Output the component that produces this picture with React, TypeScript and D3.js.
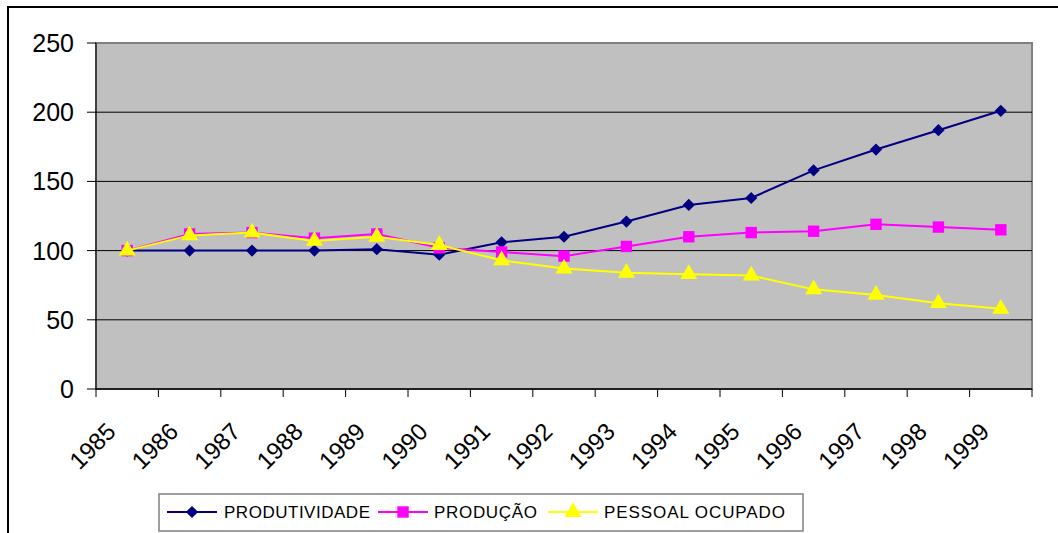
import * as d3 from 'd3'
import React from 'react'

// valores (índice, 1985 = 100)
const anos = ['1985', '1986', '1987', '1988', '1989', '1990', '1991', '1992', '1993', '1994', '1995', '1996', '1997', '1998', '1999']
const produtividade = [100, 100, 100, 100, 101, 97, 106, 110, 121, 133, 138, 158, 173, 187, 201]
const producao = [100, 112, 113, 109, 112, 102, 99, 96, 103, 110, 113, 114, 119, 117, 115]
const pessoalOcupado = [100, 111, 113, 107, 110, 104, 93, 87, 84, 83, 82, 72, 68, 62, 58]
const yTicks = [0, 50, 100, 150, 200, 250]

const W = 1058
const H = 533
const left = 96
const right = 1032
const top = 43
const bottom = 389
const font = 'Arial, "Liberation Sans", sans-serif'

const series = [
  { name: 'PRODUTIVIDADE', values: produtividade, color: '#000080', marker: 'diamond' },
  { name: 'PRODUÇÃO', values: producao, color: '#FF00FF', marker: 'square' },
  { name: 'PESSOAL OCUPADO', values: pessoalOcupado, color: '#FFFF00', marker: 'triangle' },
]

const symbolFor = (m: string) => {
  if (m === 'diamond') return d3.symbol().type(d3.symbolDiamond2).size(95)()
  if (m === 'square') return d3.symbol().type(d3.symbolSquare).size(130)()
  return d3.symbol().type(d3.symbolTriangle).size(125)()
}

export default function App() {
  const x = d3.scaleBand().domain(anos).range([left, right])
  const y = d3.scaleLinear().domain([0, 250]).range([bottom, top])
  const cx = (a: string) => (x(a) as number) + x.bandwidth() / 2

  const line = d3.line<number>()
    .x((_, i) => cx(anos[i]))
    .y(d => y(d))

  // posições da legenda (linha, texto, largura do texto)
  const legendItems = [
    { lx: 167, tx: 224, tw: 146 },
    { lx: 378, tx: 434, tw: 103 },
    { lx: 548, tx: 604, tw: 181 },
  ]

  return (
    <svg width={W} height={H} style={{ position: 'absolute', left: 0, top: 0, background: '#fff' }} fontFamily={font}>
      {/* moldura externa */}
      <path d={`M8,${H} L8,7 L${W},7`} fill="none" stroke="#000" strokeWidth={2} />

      {/* área de plotagem */}
      <rect x={left} y={top} width={right - left} height={bottom - top} fill="#C0C0C0" stroke="#808080" strokeWidth={2} />

      {/* grade e eixo y */}
      {yTicks.map(t => (
        <g key={t}>
          {t > 0 && t < 250 && <line x1={left} x2={right} y1={y(t)} y2={y(t)} stroke="#000" strokeWidth={1} />}
          <line x1={left - 9} x2={left} y1={y(t)} y2={y(t)} stroke="#000" strokeWidth={1} />
          <text x={74} y={y(t)} dy="0.36em" textAnchor="end" fontSize={25} fill="#000">{t}</text>
        </g>
      ))}
      <line x1={left} x2={left} y1={top} y2={bottom} stroke="#000" strokeWidth={1} />
      <line x1={left} x2={right} y1={bottom} y2={bottom} stroke="#000" strokeWidth={1.5} />

      {/* eixo x */}
      {anos.map(a => (
        <line key={'t' + a} x1={x(a)} x2={x(a)} y1={bottom} y2={bottom + 8} stroke="#000" strokeWidth={1} />
      ))}
      <line x1={right} x2={right} y1={bottom} y2={bottom + 8} stroke="#000" strokeWidth={1} />
      {anos.map(a => (
        <text key={'l' + a} transform={`translate(${cx(a) - 10},433) rotate(-45)`} textAnchor="end" fontSize={24} fill="#000">{a}</text>
      ))}

      {/* séries */}
      {series.map(s => (
        <g key={s.name}>
          <path d={line(s.values) as string} fill="none" stroke={s.color} strokeWidth={2} />
          {s.values.map((v, i) => (
            <path key={i} d={symbolFor(s.marker) as string} transform={`translate(${cx(anos[i])},${y(v)})`} fill={s.color} />
          ))}
        </g>
      ))}

      {/* legenda */}
      <rect x={159} y={494} width={644} height={37} fill="#fff" stroke="#808080" strokeWidth={1.5} />
      {series.map((s, i) => (
        <g key={'lg' + s.name}>
          <line x1={legendItems[i].lx} x2={legendItems[i].lx + 50} y1={512} y2={512} stroke={s.color} strokeWidth={2} />
          <path d={symbolFor(s.marker) as string} transform={`translate(${legendItems[i].lx + 25},512)`} fill={s.color} />
          <text x={legendItems[i].tx} y={512} dy="0.36em" fontSize={17} textLength={legendItems[i].tw} lengthAdjust="spacing" fill="#000">{s.name}</text>
        </g>
      ))}
    </svg>
  )
}
